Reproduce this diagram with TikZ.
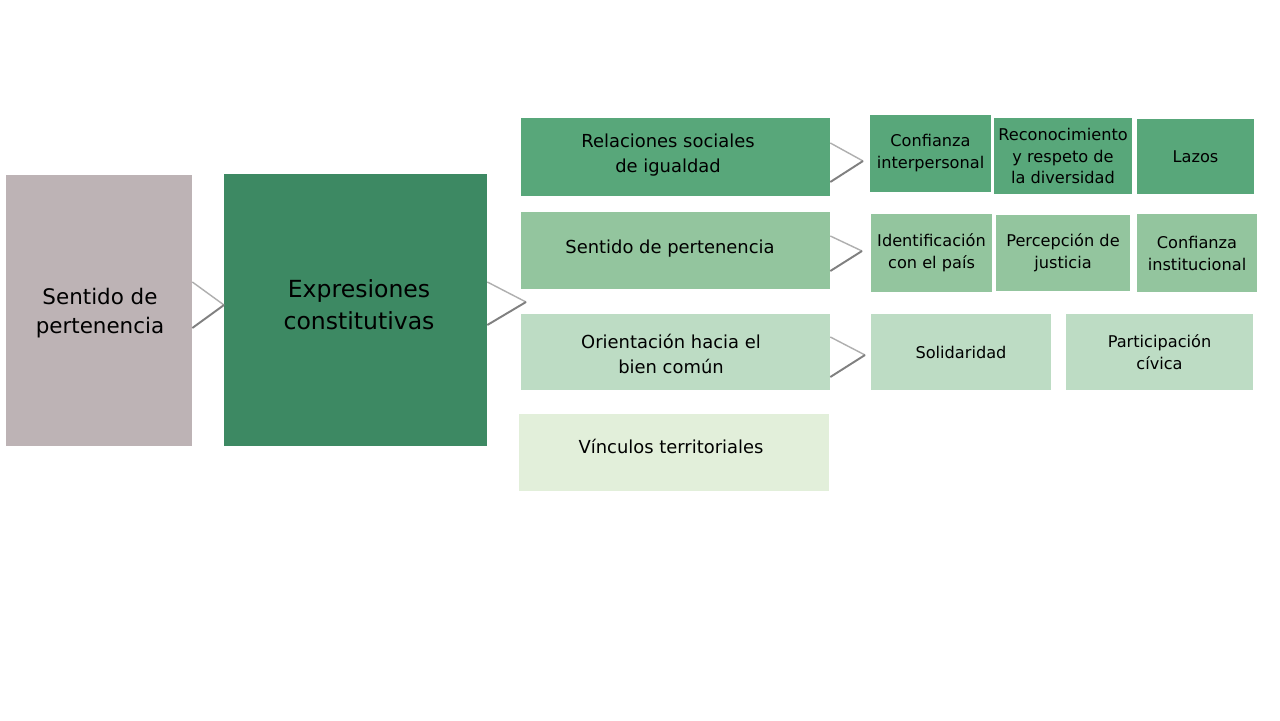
\documentclass[tikz,border=0pt]{standalone}
\usepackage{fontspec}
\setmainfont{DejaVu Sans}
\usetikzlibrary{positioning, calc}
\definecolor{RootGray}{RGB}{189,179,181}
\definecolor{ExprGreen}{RGB}{61,137,99}
\definecolor{LevelOne}{RGB}{88,167,122}
\definecolor{LevelTwo}{RGB}{147,197,158}
\definecolor{LevelThree}{RGB}{189,220,196}
\definecolor{LevelFour}{RGB}{226,239,218}
\definecolor{ChevLight}{RGB}{175,175,175}
\definecolor{ChevDark}{RGB}{128,128,128}

\begin{document}
\begin{tikzpicture}[x=0.02cm,y=-0.02cm,
        tile/.style={inner sep=0pt,align=center,text=black},
        rootbox/.style={tile,fill=RootGray,minimum width=3.72cm,minimum height=5.42cm},
        exprbox/.style={tile,fill=ExprGreen,minimum width=5.26cm,minimum height=5.44cm},
        bigtext/.style={tile,font=\fontsize{12.2}{16.4}\selectfont},
        hugetext/.style={tile,font=\fontsize{13.4}{18}\selectfont},
        dimbox/.style={tile,minimum width=6.18cm,minimum height=1.54cm,
                       font=\fontsize{10.2}{14.7}\selectfont},
        subbox/.style={tile,minimum height=1.53cm,
                       font=\fontsize{9.2}{12.5}\selectfont},
        chevup/.style={ChevLight,line width=0.8pt},
        chevdown/.style={ChevDark,line width=1.1pt}
      ]
        \useasboundingbox[fill=white] (0,0) rectangle (1280,720);

        \node[rootbox] (root) at (99,310.5) {};
        \node[bigtext] (roottext) at (100,313) {Sentido de\\pertenencia};
        \node[exprbox] (expr) at (355.5,310) {};
        \node[hugetext] (exprtext) at (359,305) {Expresiones\\constitutivas};

        \node[dimbox,fill=LevelOne,minimum height=1.56cm] (rel) at (675.5,157) {};
        \node[dimbox,minimum width=0pt,minimum height=0pt] (reltext) at (668,155) {Relaciones sociales\\de igualdad};
        \node[dimbox,fill=LevelTwo] (sen) at (675.5,250.5) {};
        \node[dimbox,minimum width=0pt,minimum height=0pt] (sentext) at (670,249) {Sentido de pertenencia};
        \node[dimbox,fill=LevelThree,minimum height=1.52cm] (ori) at (675.5,352) {};
        \node[dimbox,minimum width=0pt,minimum height=0pt] (oritext) at (671,354) {Orientación hacia el\\bien común};
        \node[dimbox,fill=LevelFour,minimum width=6.2cm] (vin) at (674,452.5) {};
        \node[dimbox,minimum width=0pt,minimum height=0pt] (vintext) at (671,446) {Vínculos territoriales};

        \node[subbox,fill=LevelOne,minimum width=2.42cm] (conf) at (930.5,153.5) {Confianza\\interpersonal};
        \node[subbox,fill=LevelOne,minimum width=2.76cm] (reco) at (1063,156) {Reconocimiento\\y respeto de\\la diversidad};
        \node[subbox,fill=LevelOne,minimum width=2.34cm,minimum height=1.5cm] (lazos) at (1195.5,156.5) {Lazos};

        \node[subbox,fill=LevelTwo,minimum width=2.42cm,minimum height=1.56cm] (iden) at (931.5,253) {Identificación\\con el país};
        \node[subbox,fill=LevelTwo,minimum width=2.68cm] (perc) at (1063,253) {Percepción de\\justicia};
        \node[subbox,fill=LevelTwo,minimum width=2.4cm,minimum height=1.56cm] (cinst) at (1197,253) {Confianza\\institucional};

        \node[subbox,fill=LevelThree,minimum width=3.6cm] (soli) at (961,352) {Solidaridad};
        \node[subbox,fill=LevelThree,minimum width=3.74cm] (part) at (1159.5,352) {Participación\\cívica};

        \coordinate (tipA) at (224,305);
        \coordinate (tipB) at (526,302);
        \coordinate (tipC) at (863,161);
        \coordinate (tipD) at (862,251);
        \coordinate (tipE) at (865,355);

        \draw[chevup] ($(root.east)+(0,-28.5)$) -- (tipA);
        \draw[chevdown] (tipA) -- ($(root.east)+(0,17.5)$);
        \draw[chevup] ($(expr.east)+(0,-28)$) -- (tipB);
        \draw[chevdown] (tipB) -- ($(expr.east)+(0,15)$);
        \draw[chevup] ($(rel.east)+(0,-14)$) -- (tipC);
        \draw[chevdown] (tipC) -- ($(rel.east)+(0,25)$);
        \draw[chevup] ($(sen.east)+(0,-14.5)$) -- (tipD);
        \draw[chevdown] (tipD) -- ($(sen.east)+(0,20.5)$);
        \draw[chevup] ($(ori.east)+(0,-15)$) -- (tipE);
        \draw[chevdown] (tipE) -- ($(ori.east)+(0,25)$);
      \end{tikzpicture}
\end{document}
